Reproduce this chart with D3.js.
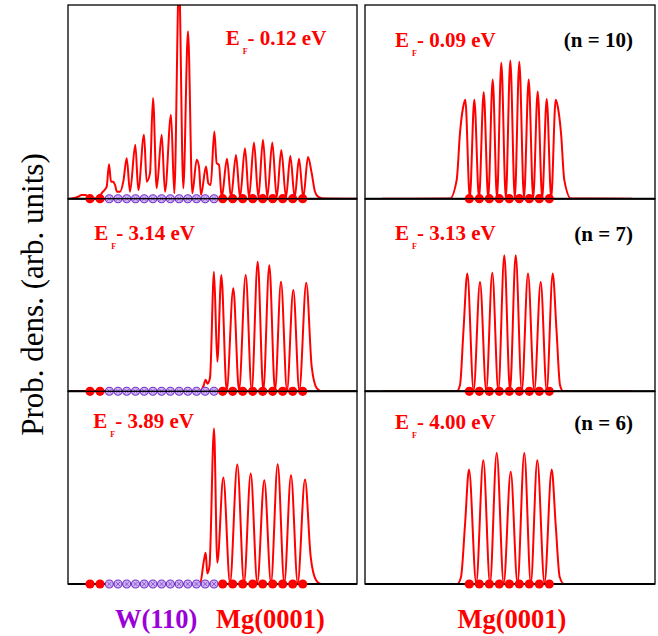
<!DOCTYPE html>
<html>
<head>
<meta charset="utf-8">
<script src="https://cdn.jsdelivr.net/npm/d3@7"></script>
<style>
  body { margin: 0; background: #fff; }
  svg { display: block; }
  text { font-family: "Liberation Serif", "Times New Roman", serif; }
</style>
</head>
<body>
<div id="chart"></div>
<script>
////////////////////////////////////////////////////////////
//////////////////////// Data //////////////////////////////
////////////////////////////////////////////////////////////

// x in Mg interlayer spacings (first Mg layer of the film = 0), y in arb. units (0-100)
var densTopLeft = [[-15.3,0],[-14.5,0.9],[-14.1,1.9],[-13.7,1.9],[-13.4,0.4],[-12.6,0.1],[-12.0,3.5],[-11.6,6.2],[-11.37,17.8],[-11.17,8.8],[-10.94,8.8],[-10.77,7.1],[-10.57,3.6],[-10.27,3.6],[-9.94,8.8],[-9.6,20.9],[-9.27,3.6],[-8.74,27.8],[-8.44,4.5],[-7.87,33.0],[-7.6,8.8],[-7.27,13.2],[-6.97,52.0],[-6.6,5.4],[-6.1,33.0],[-5.77,3.6],[-5.17,43.4],[-4.84,2.8],[-4.37,113],[-3.94,5.4],[-3.47,86.5],[-3.04,2.8],[-2.6,20.1],[-2.37,16.4],[-2.17,1.9],[-1.67,16.6],[-1.44,8.0],[-1.2,7.1],[-0.84,34.7],[-0.6,18.3],[-0.37,17.5],[-0.1,0.6],[0.43,20.6],[0.83,0.6],[1.33,22.6],[1.73,0.6],[2.23,26.1],[2.63,0.6],[3.13,29.0],[3.56,0.6],[4.03,30.4],[4.46,0.6],[4.96,29.0],[5.4,0.6],[5.86,25.2],[6.33,0.6],[6.76,22.1],[7.2,0.6],[7.63,20.6],[8.06,0.6],[8.53,21.5],[8.9,13.2],[9.23,3.6],[9.56,1.0],[10.2,0.1],[13.4,0]];
var densMidLeft = [[-15.3,0],[-2.27,0],[-1.94,2.5],[-1.7,6.0],[-1.52,3.9],[-1.27,7.0],[-0.87,62.1],[-0.54,15.3],[-0.14,60.4],[0.4,0.5],[1.06,53.5],[1.63,0.5],[2.3,60.4],[2.9,0.5],[3.5,67.3],[4.06,0.5],[4.66,65.5],[5.23,0.5],[5.83,56.9],[6.43,0.5],[7.06,52.6],[7.66,0.5],[8.36,56.4],[8.9,12.8],[9.4,1.7],[9.93,0],[13.4,0]];
var densBotLeft = [[-15.3,0],[-2.27,0],[-1.87,12.4],[-1.7,16.2],[-1.54,5.5],[-1.32,9.3],[-0.87,80.7],[-0.54,11.0],[0.06,55.3],[0.73,0.6],[1.46,62.0],[2.13,0.6],[2.8,57.4],[3.46,0.6],[4.16,53.9],[4.83,0.6],[5.5,62.2],[6.16,0.6],[6.83,56.5],[7.5,0.6],[8.23,54.2],[8.8,14.1],[9.33,2.1],[9.83,0],[13.4,0]];
var densTopRight = [[-8.73,0],[-1.93,0.1],[-1.26,9.7],[-0.93,34],[-0.6,47.7],[-0.4,51.1],[0.05,0.4],[0.5,51.1],[0.97,0.4],[1.44,54.9],[1.89,0.4],[2.34,61.5],[2.77,0.4],[3.2,70.2],[3.65,0.4],[4.1,71.3],[4.55,0.4],[5.0,70.7],[5.47,0.4],[5.94,61.5],[6.39,0.4],[6.84,55.4],[7.29,0.4],[7.74,51.5],[8.19,0.4],[8.64,51.1],[8.84,47.7],[9.17,34],[9.5,9.7],[10.17,0.1],[16.27,0]];
var densMidRight = [[-8.73,0],[-1.26,0],[-0.93,3.3],[-0.58,31.8],[-0.2,61.1],[0.43,0.4],[1.07,56.8],[1.69,0.4],[2.3,61.5],[2.9,0.4],[3.5,70.6],[4.07,0.4],[4.64,70.6],[5.25,0.4],[5.87,61.1],[6.5,0.4],[7.14,56.8],[7.74,0.4],[8.34,61.1],[8.72,31.8],[9.07,3.3],[9.4,0],[16.27,0]];
var densBotRight = [[-8.73,0],[-1.2,0],[-0.83,3.6],[-0.43,30.6],[-0.03,59.4],[0.69,0.4],[1.4,64.2],[2.07,0.4],[2.74,68.0],[3.44,0.4],[4.14,58.2],[4.82,0.4],[5.5,68.0],[6.15,0.4],[6.8,64.2],[7.52,0.4],[8.24,59.4],[8.64,30.6],[9.04,3.6],[9.47,0],[16.27,0]];

// atomic layer positions
var mgOuter = [-13.27, -12.27];
var wLayers = [-11.34, -10.47, -9.6, -8.72, -7.85, -6.98, -6.11, -5.24, -4.36, -3.49, -2.62, -1.75, -0.87];
var mgFilm = [0, 1, 2, 3, 4, 5, 6, 7, 8];

// state energies below E_F (eV) and number of Mg layers
var energies = ["0.12", "3.14", "3.89", "0.09", "3.13", "4.00"];
var layerCounts = [null, null, null, "10", "7", "6"];

var xDomainW = [-15.47, 13.43],
	xDomainMg = [-10.43, 18.57],
	yDomain = [0, 100];

////////////////////////////////////////////////////////////
//////////////////////// Set-Up ////////////////////////////
////////////////////////////////////////////////////////////

var width = 658, height = 636;
var colX = [[68, 357], [365, 655]];
var rowY = [5, 198.7, 391.3, 584];
var red = "#ff0000", violet = "#9a00d8";

var panels = [
	{col: 0, row: 0, data: densTopLeft, lab: [157.7, 40]},
	{col: 0, row: 1, data: densMidLeft, lab: [26.3, 41.3]},
	{col: 0, row: 2, data: densBotLeft, lab: [25.3, 37]},
	{col: 1, row: 0, data: densTopRight, lab: [30, 41.7]},
	{col: 1, row: 1, data: densMidRight, lab: [30, 41.3]},
	{col: 1, row: 2, data: densBotRight, lab: [30, 38]}
];

var svg = d3.select("#chart").append("svg")
	.attr("width", width)
	.attr("height", height);

var defs = svg.append("defs");

////////////////////////////////////////////////////////////
//////////////////////// Panels ////////////////////////////
////////////////////////////////////////////////////////////

panels.forEach(function(p, i) {
	var x = d3.scaleLinear().domain(p.col === 0 ? xDomainW : xDomainMg).range(colX[p.col]);
	var y = d3.scaleLinear().domain(yDomain).range([rowY[p.row + 1], rowY[p.row]]);
	var x0 = colX[p.col][0], x1 = colX[p.col][1],
		top = rowY[p.row], bottom = rowY[p.row + 1];

	defs.append("clipPath").attr("id", "clip" + i)
		.append("rect")
		.attr("x", x0).attr("y", top)
		.attr("width", x1 - x0).attr("height", bottom - top);

	var g = svg.append("g");

	//probability density curve
	var line = d3.line()
		.x(function(d) { return x(d[0]); })
		.y(function(d) { return y(d[1]); })
		.curve(d3.curveMonotoneX);

	g.append("path")
		.datum(p.data)
		.attr("clip-path", "url(#clip" + i + ")")
		.attr("d", line)
		.attr("fill", "none")
		.attr("stroke", red)
		.attr("stroke-width", 2)
		.attr("stroke-linejoin", "round");

	//frame and baseline
	g.append("rect")
		.attr("x", x0).attr("y", top)
		.attr("width", x1 - x0).attr("height", bottom - top)
		.attr("fill", "none")
		.attr("stroke", "#000")
		.attr("stroke-width", 1.3);

	g.append("line")
		.attr("x1", x0).attr("x2", x1)
		.attr("y1", y(0)).attr("y2", y(0))
		.attr("stroke", "#000")
		.attr("stroke-width", 2);

	//atomic layers
	var redAtoms = p.col === 0 ? mgOuter.concat(mgFilm) : mgFilm;
	if (p.col === 0) {
		var w = g.selectAll("g.w").data(wLayers).enter().append("g")
			.attr("class", "w")
			.attr("transform", function(d) { return "translate(" + x(d) + "," + y(0) + ")"; });
		w.append("circle")
			.attr("r", 4)
			.attr("fill", "#cdb4f0")
			.attr("stroke", "#7434cc")
			.attr("stroke-width", 1.1);
		w.append("path")
			.attr("d", d3.symbol(d3.symbolTimes, 14))
			.attr("stroke", "#7a40d0")
			.attr("stroke-width", 0.8)
			.attr("fill", "none");
	}
	g.selectAll("circle.mg").data(redAtoms).enter().append("circle")
		.attr("class", "mg")
		.attr("cx", function(d) { return x(d); })
		.attr("cy", y(0))
		.attr("r", 4.6)
		.attr("fill", red);

	//energy label
	var t = g.append("text")
		.attr("x", x0 + p.lab[0])
		.attr("y", top + p.lab[1])
		.attr("fill", red)
		.attr("font-weight", "bold")
		.attr("font-size", 21);
	t.append("tspan").text("E");
	t.append("tspan").attr("font-size", 8).attr("dx", 3).attr("dy", 9).text("F");
	t.append("tspan").attr("dy", -9).text("- " + energies[i] + " eV");

	if (layerCounts[i]) {
		g.append("text")
			.attr("x", x1 - 22)
			.attr("y", top + p.lab[1] + 0.5)
			.attr("text-anchor", "end")
			.attr("font-weight", "bold")
			.attr("font-size", 21)
			.attr("fill", "#000")
			.text("(n = " + layerCounts[i] + ")");
	}
});

////////////////////////////////////////////////////////////
//////////////////////// Labels ////////////////////////////
////////////////////////////////////////////////////////////

svg.append("text")
	.attr("transform", "translate(43," + ((rowY[0] + rowY[3]) / 2) + ") rotate(-90)")
	.attr("text-anchor", "middle")
	.attr("font-size", 31)
	.attr("fill", "#000")
	.text("Prob. dens. (arb. units)");

svg.append("text")
	.attr("x", 115).attr("y", 628)
	.attr("font-size", 26.5).attr("font-weight", "bold")
	.attr("fill", violet)
	.text("W(110)");

svg.append("text")
	.attr("x", 216).attr("y", 628)
	.attr("font-size", 26.5).attr("font-weight", "bold")
	.attr("fill", red)
	.text("Mg(0001)");

svg.append("text")
	.attr("x", (colX[1][0] + colX[1][1]) / 2 + 2).attr("y", 628)
	.attr("text-anchor", "middle")
	.attr("font-size", 26.5).attr("font-weight", "bold")
	.attr("fill", red)
	.text("Mg(0001)");
</script>
</body>
</html>
